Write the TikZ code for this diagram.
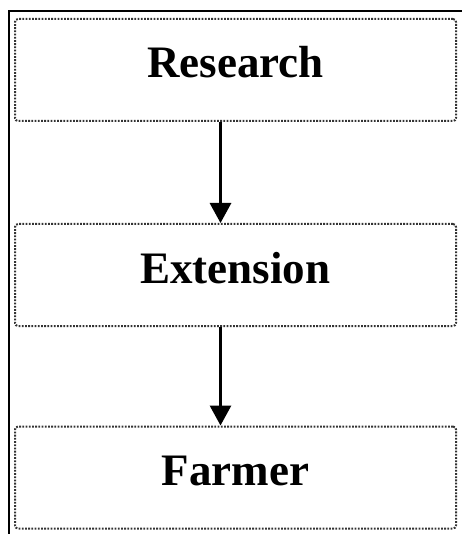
\documentclass[tikz,border=0pt]{standalone}
\usepackage{fontspec}
\setmainfont{Liberation Serif}
\usepackage{tikz}
\usetikzlibrary{positioning,arrows.meta,calc}

\begin{document}
\begin{tikzpicture}[
  x=1pt, y=-1pt,
  stage/.style={draw=black!80, dash pattern=on 1.8pt off 1.4pt, line width=2pt, rounded corners=3pt, minimum width=441pt, minimum height=102pt, inner sep=0pt, text height=30pt, text depth=14pt, font=\fontsize{45}{50}\selectfont\bfseries, align=center},
  arr/.style={-{Triangle[length=20pt, width=21pt]}, line width=3pt},
]
\useasboundingbox (0,0) rectangle (462,534);
% frame (cut at right and bottom)
\draw[line width=2.6pt] (9,534) -- (9,11) -- (462,11);

% stages
\node[stage] (res) at (235.5, 70) {Research};
\node[stage] (ext) at (235.5, 275) {Extension};
\node[stage] (farm) at (235.5, 477.5) {Farmer};

\draw[arr] ($(res.south)+(-15,0)$) -- ($(ext.north)+(-15,0)$);
\draw[arr] ($(ext.south)+(-15,0)$) -- ($(farm.north)+(-15,0)$);
\end{tikzpicture}
\end{document}
